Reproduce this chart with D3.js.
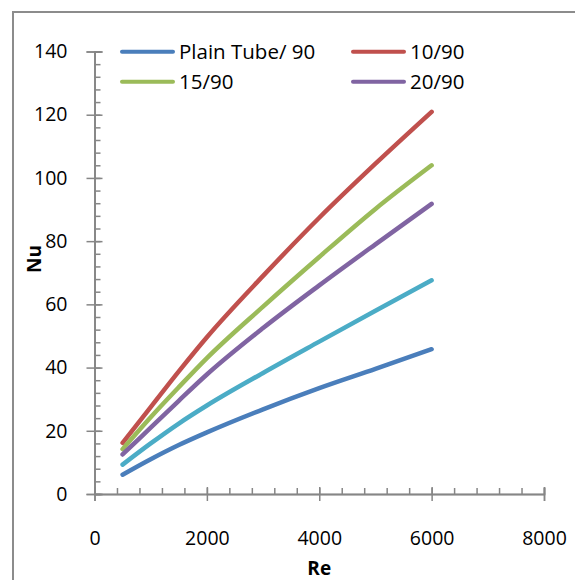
<!DOCTYPE html>
<html>
<head>
<meta charset="utf-8">
<script src="https://cdn.jsdelivr.net/npm/d3@7"></script>
<style>
  body { margin: 0; background: #fff; }
  #chart text { font-family: "Open Sans", "Noto Sans", sans-serif; fill: #000; }
</style>
</head>
<body>
<div id="chart"></div>
<script>
(function () {

  // data
  const reValues = [500, 1000, 1500, 2000, 3000, 4000, 5000, 6000];
  const seriesNames = ["Plain Tube/ 90", "10/90", "15/90", "20/90", ""];
  const plainTube = [6.1, 11.0, 15.5, 19.5, 26.8, 33.5, 39.6, 45.8];
  const tape10 = [16.2, 27.5, 38.8, 49.6, 69.0, 87.4, 104.5, 120.9];
  const tape15 = [14.2, 24.3, 33.8, 43.0, 59.3, 75.0, 90.2, 104.0];
  const tape20 = [12.5, 21.0, 29.5, 37.8, 52.5, 66.0, 79.0, 91.8];
  const extra = [9.3, 16.0, 22.3, 28.0, 38.3, 48.2, 58.0, 67.6];
  const xTicks = [0, 2000, 4000, 6000, 8000];
  const yTicks = [0, 20, 40, 60, 80, 100, 120, 140];

  const colors = ["#4a7ebb", "#c0504d", "#9bbb59", "#8064a2", "#4bacc6"];
  const allSeries = [plainTube, tape10, tape15, tape20, extra];

  const W = 575, H = 580;
  const svg = d3.select("#chart").append("svg")
    .attr("width", W)
    .attr("height", H);

  // outer chart frame
  svg.append("rect")
    .attr("x", 13)
    .attr("y", 12)
    .attr("width", W + 20)
    .attr("height", H + 20)
    .attr("fill", "none")
    .attr("stroke", "#8c8c8c")
    .attr("stroke-width", 2);

  const x = d3.scaleLinear().domain([0, 8000]).range([94.5, 544]);
  const y = d3.scaleLinear().domain([0, 140]).range([494, 51.5]);

  const axisColor = "#868686";

  // y axis
  const yMinor = d3.range(0, 141, 4);
  const gy = svg.append("g").attr("transform", `translate(${x(0)},0)`);
  gy.append("g")
    .call(d3.axisRight(y).tickValues(yMinor).tickSize(6).tickFormat(""));
  gy.append("g")
    .call(d3.axisRight(y).tickValues(yTicks).tickSize(8).tickFormat(""));
  gy.append("g")
    .call(d3.axisLeft(y).tickValues(yTicks).tickSize(8).tickPadding(19));

  // x axis
  const xMinor = d3.range(0, 8001, 400);
  const gx = svg.append("g").attr("transform", `translate(0,${y(0)})`);
  gx.append("g")
    .call(d3.axisTop(x).tickValues(xMinor).tickSize(6).tickFormat(""));
  gx.append("g")
    .call(d3.axisTop(x).tickValues(xTicks).tickSize(7).tickFormat(""));
  gx.append("g")
    .call(d3.axisBottom(x).tickValues(xTicks).tickSize(7).tickPadding(30).tickFormat(d3.format("d")));

  svg.selectAll(".domain, .tick line")
    .attr("stroke", axisColor)
    .attr("stroke-width", 1.5);
  svg.selectAll(".tick text")
    .style("font-size", "19.5px");

  // axis titles
  svg.append("text")
    .attr("x", x(4000))
    .attr("y", 575)
    .attr("text-anchor", "middle")
    .style("font-size", "19px")
    .style("font-weight", "700")
    .text("Re");

  svg.append("text")
    .attr("transform", "translate(41,259) rotate(-90)")
    .attr("text-anchor", "middle")
    .style("font-size", "19px")
    .style("font-weight", "700")
    .text("Nu");

  // lines
  const line = d3.line()
    .x((d, i) => x(reValues[i]))
    .y(d => y(d))
    .curve(d3.curveMonotoneX);

  svg.selectAll(".series")
    .data(allSeries)
    .join("path")
    .attr("class", "series")
    .attr("d", d => line(d))
    .attr("fill", "none")
    .attr("stroke", (d, i) => colors[i])
    .attr("stroke-width", 4.5)
    .attr("stroke-linecap", "round")
    .attr("stroke-linejoin", "round");

  // legend (only four entries shown)
  const legendPos = [
    { lx: 122, ly: 51.7 },
    { lx: 353, ly: 51.7 },
    { lx: 122, ly: 81.7 },
    { lx: 353, ly: 81.7 }
  ];
  const legendOrder = [0, 1, 2, 3];

  const leg = svg.append("g")
    .selectAll("g")
    .data(legendOrder)
    .join("g")
    .attr("transform", (d, i) => `translate(${legendPos[i].lx},${legendPos[i].ly})`);

  leg.append("line")
    .attr("x1", 0)
    .attr("x2", 51)
    .attr("stroke", d => colors[d])
    .attr("stroke-width", 4)
    .attr("stroke-linecap", "round");

  leg.append("text")
    .attr("x", 57)
    .attr("dy", "0.35em")
    .style("font-size", "20.5px")
    .text(d => seriesNames[d]);

})();
</script>
</body>
</html>
